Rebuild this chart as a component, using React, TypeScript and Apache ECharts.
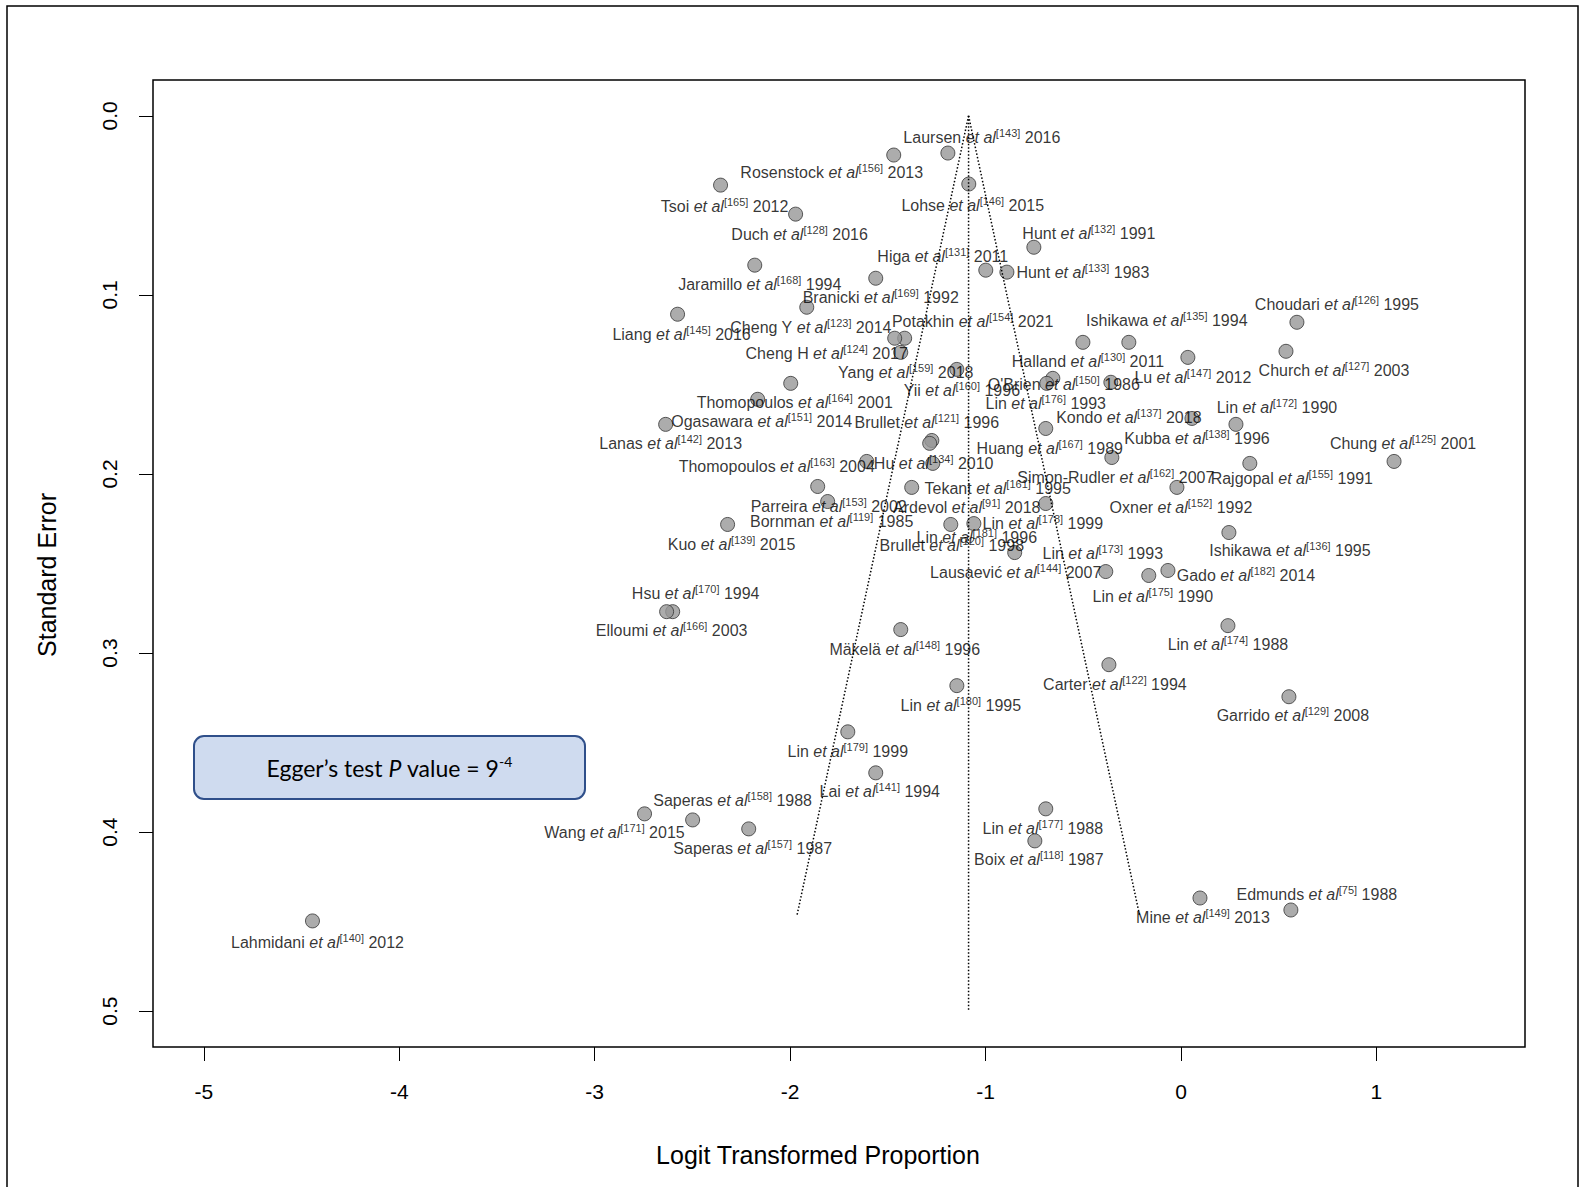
import { useEffect, useRef } from "react";
import * as echarts from "echarts";

const studyNames = [
  "Laursen", "Rosenstock", "Tsoi", "Lohse", "Duch", "Hunt", "Higa", "Hunt", "Jaramillo", "Branicki",
  "Choudari", "Potakhin", "Ishikawa", "Liang", "Cheng Y", "Cheng H", "Halland", "Church", "Yang", "Lu",
  "Yii", "O'Brien", "Lin", "Thomopoulos", "Lin", "Ogasawara", "Brullet", "Kondo", "Lanas", "Kubba",
  "Chung", "Huang", "Thomopoulos", "Hu", "Simon-Rudler", "Rajgopal", "Tekant", "Parreira", "Ardevol", "Oxner",
  "Bornman", "Lin", "Kuo", "Lin", "Brullet", "Lin", "Ishikawa", "Lausaević", "Gado", "Lin",
  "Hsu", "Elloumi", "Mäkelä", "Lin", "Carter", "Lin", "Garrido", "Lin", "Lai", "Saperas",
  "Wang", "Saperas", "Lin", "Boix", "Edmunds", "Mine", "Lahmidani",
];
const studyRefs = [
  143, 156, 165, 146, 128, 132, 131, 133, 168, 169,
  126, 154, 135, 145, 123, 124, 130, 127, 159, 147,
  160, 150, 176, 164, 172, 151, 121, 137, 142, 138,
  125, 167, 163, 134, 162, 155, 161, 153, 91, 152,
  119, 178, 139, 181, 120, 173, 136, 144, 182, 175,
  170, 166, 148, 174, 122, 180, 129, 179, 141, 158,
  171, 157, 177, 118, 75, 149, 140,
];
const studyYears = [
  2016, 2013, 2012, 2015, 2016, 1991, 2011, 1983, 1994, 1992,
  1995, 2021, 1994, 2016, 2014, 2017, 2011, 2003, 2018, 2012,
  1996, 1986, 1993, 2001, 1990, 2014, 1996, 2018, 2013, 1996,
  2001, 1989, 2004, 2010, 2007, 1991, 1995, 2002, 2018, 1992,
  1985, 1999, 2015, 1996, 1998, 1993, 1995, 2007, 2014, 1990,
  1994, 2003, 1996, 1988, 1994, 1995, 2008, 1999, 1994, 1988,
  2015, 1987, 1988, 1987, 1988, 2013, 2012,
];
const logitProportions = [
  -1.193, -1.470, -2.356, -1.086, -1.972, -0.753, -0.999, -0.891, -2.181, -1.562,
  0.593, -1.414, -0.267, -2.576, -1.915, -1.465, -0.502, 0.537, -1.434, 0.035,
  -1.147, -0.656, -0.687, -1.997, 0.281, -2.166, -1.275, -0.359, -2.637, 0.056,
  1.090, -0.692, -1.608, -1.286, -0.354, 0.352, -1.378, -1.859, -0.692, -0.021,
  -1.808, -1.060, -2.320, -1.270, -1.178, -0.385, 0.245, -0.851, -0.067, -0.165,
  -2.601, -2.632, -1.434, 0.240, -0.369, -1.147, 0.552, -1.705, -1.562, -2.499,
  -2.745, -2.212, -0.692, -0.748, 0.562, 0.097, -4.444,
];
const standardErrors = [
  0.0208, 0.0219, 0.0387, 0.0381, 0.0549, 0.0734, 0.0862, 0.0873, 0.0834, 0.0907,
  0.1153, 0.1242, 0.1265, 0.1108, 0.1069, 0.1242, 0.1265, 0.1315, 0.1321, 0.1349,
  0.1416, 0.1466, 0.1494, 0.1494, 0.1723, 0.1583, 0.1813, 0.1488, 0.1723, 0.1690,
  0.1930, 0.1746, 0.1930, 0.1829, 0.1908, 0.1941, 0.2075, 0.2070, 0.2165, 0.2075,
  0.2154, 0.2277, 0.2282, 0.1941, 0.2282, 0.2545, 0.2327, 0.2439, 0.2539, 0.2567,
  0.2769, 0.2769, 0.2869, 0.2847, 0.3065, 0.3182, 0.3244, 0.3440, 0.3669, 0.3932,
  0.3898, 0.3982, 0.3870, 0.4049, 0.4435, 0.4368, 0.4496,
];
// label placement relative to each point, in pixels
const labelOffsets = [
  [34, -16], [-62, 17], [4, 21], [4, 21], [4, 20], [55, -14], [-43, -14], [76, 0], [5, 19], [5, 19],
  [40, -18], [68, -17], [38, -22], [4, 20], [4, 20], [-68, 15], [5, 19], [48, 19], [5, 20], [5, 20],
  [5, 21], [11, 6], [-1, 20], [4, 19], [41, -17], [4, 22], [-5, -18], [18, 35], [5, 19], [5, 20],
  [9, -18], [4, 20], [-90, 5], [4, 20], [4, 20], [42, 15], [86, 1], [11, 20], [-79, 4], [4, 20],
  [4, 20], [69, 0], [4, 20], [44, 74], [1, 21], [-3, -18], [61, 18], [1, 20], [78, 5], [4, 21],
  [23, -18], [5, 19], [4, 20], [0, 19], [6, 20], [4, 20], [4, 19], [0, 20], [4, 19], [40, -19],
  [-30, 19], [4, 20], [-3, 20], [4, 19], [26, -16], [3, 19], [5, 22],
];

const xTicks = [-5, -4, -3, -2, -1, 0, 1];
const yTicks = [0, 0.1, 0.2, 0.3, 0.4, 0.5];
const funnelCenterLine = [[-1.087, 0], [-1.087, 0.5]];
const funnelLeftLine = [[-1.087, 0], [-1.966, 0.447]];
const funnelRightLine = [[-1.087, 0], [-0.211, 0.447]];
const eggerText = { before: "Egger’s test ", italic: "P", after: " value = 9", sup: "-4" };
const xTitle = "Logit Transformed Proportion";
const yTitle = "Standard Error";

const FONT = "'Liberation Sans', Arial, Helvetica, sans-serif";

export default function App() {
  const ref = useRef<HTMLDivElement>(null);
  useEffect(() => {
    if (!ref.current) return;
    const chart = echarts.init(ref.current, undefined, { renderer: "svg" });
    const points = logitProportions.map((x, i) => ({
      value: [x, standardErrors[i]],
      label: { offset: labelOffsets[i] },
    }));
    const dotted = { color: "#000", width: 1.5, type: [1.5, 2] as number[] };
    chart.setOption({
      animation: false,
      backgroundColor: "#fff",
      grid: {
        left: 153,
        top: 80,
        right: 54,
        bottom: 140,
        show: true,
        borderColor: "#000",
        borderWidth: 1.5,
        containLabel: false,
      },
      xAxis: {
        type: "value",
        position: "bottom",
        min: -5.26,
        max: 1.76,
        splitLine: { show: false },
        axisLine: { show: false, onZero: false },
        axisTick: { show: true, length: 14, inside: false, customValues: xTicks, lineStyle: { color: "#000", width: 1 } },
        axisLabel: { customValues: xTicks, fontSize: 21, color: "#000", margin: 34, fontFamily: FONT },
      },
      yAxis: {
        type: "value",
        position: "left",
        inverse: true,
        min: -0.02,
        max: 0.52,
        splitLine: { show: false },
        axisLine: { show: false, onZero: false },
        axisTick: { show: true, length: 14, inside: false, customValues: yTicks, lineStyle: { color: "#000", width: 1 } },
        axisLabel: {
          customValues: yTicks,
          rotate: 90,
          fontSize: 21,
          color: "#000",
          margin: 33,
          fontFamily: FONT,
          formatter: (v: number) => v.toFixed(1),
        },
      },
      series: [
        {
          type: "scatter",
          z: 2,
          silent: true,
          symbol: "circle",
          symbolSize: 14,
          itemStyle: { color: "#979797", borderColor: "#333", borderWidth: 1 },
          label: {
            show: true,
            position: "inside",
            fontFamily: FONT,
            color: "#000",
            formatter: (p: any) => {
              const i = p.dataIndex;
              return `{n|${studyNames[i]} }{i|et al}{s|[${studyRefs[i]}]}{n| ${studyYears[i]}}`;
            },
            rich: {
              n: { fontSize: 16, fontFamily: FONT, color: "#000" },
              i: { fontSize: 16, fontFamily: FONT, fontStyle: "italic", color: "#000" },
              s: { fontSize: 11, fontFamily: FONT, color: "#000", padding: [0, 0, 9, 0] },
            },
          },
          emphasis: { disabled: true },
          data: points,
        },
        { type: "line", z: 3, silent: true, symbol: "none", lineStyle: dotted, data: funnelCenterLine },
        { type: "line", z: 3, silent: true, symbol: "none", lineStyle: dotted, data: funnelLeftLine },
        { type: "line", z: 3, silent: true, symbol: "none", lineStyle: dotted, data: funnelRightLine },
      ],
      graphic: [
        {
          type: "rect",
          shape: { x: 7, y: 6, width: 1571, height: 1200 },
          style: { fill: "none", stroke: "#000", lineWidth: 1.5 },
          silent: true,
        },
        {
          type: "rect",
          shape: { x: 194, y: 736, width: 391, height: 63, r: 10 },
          style: { fill: "#cfdbef", stroke: "#2f4f8a", lineWidth: 2 },
          silent: true,
          z: 10,
        },
        {
          type: "text",
          x: 389.5,
          y: 768,
          z: 11,
          silent: true,
          style: {
            text: `{a|${eggerText.before}}{b|${eggerText.italic}}{a|${eggerText.after}}{c|${eggerText.sup}}`,
            align: "center",
            verticalAlign: "middle",
            textAlign: "center",
            textVerticalAlign: "middle",
            rich: {
              a: { fontSize: 23, fontFamily: "Lato, 'Open Sans', sans-serif", fill: "#000", color: "#000" },
              b: { fontSize: 23, fontFamily: "Lato, 'Open Sans', sans-serif", fontStyle: "italic", fill: "#000", color: "#000" },
              c: { fontSize: 14, fontFamily: "Lato, 'Open Sans', sans-serif", fill: "#000", color: "#000", padding: [0, 0, 14, 0] },
            },
          } as any,
        },
        {
          type: "text",
          x: 818,
          y: 1155,
          silent: true,
          style: {
            text: xTitle,
            fontSize: 25,
            fontFamily: FONT,
            fill: "#000",
            align: "center",
            verticalAlign: "middle",
            textAlign: "center",
            textVerticalAlign: "middle",
          } as any,
        },
        {
          type: "text",
          x: 47,
          y: 575,
          rotation: Math.PI / 2,
          silent: true,
          style: {
            text: yTitle,
            fontSize: 25,
            fontFamily: FONT,
            fill: "#000",
            align: "center",
            verticalAlign: "middle",
            textAlign: "center",
            textVerticalAlign: "middle",
          } as any,
        },
      ],
    });
    return () => chart.dispose();
  }, []);
  return (
    <div
      ref={ref}
      style={{ position: "fixed", left: 0, top: 0, width: 1579, height: 1187, background: "#fff" }}
    />
  );
}
